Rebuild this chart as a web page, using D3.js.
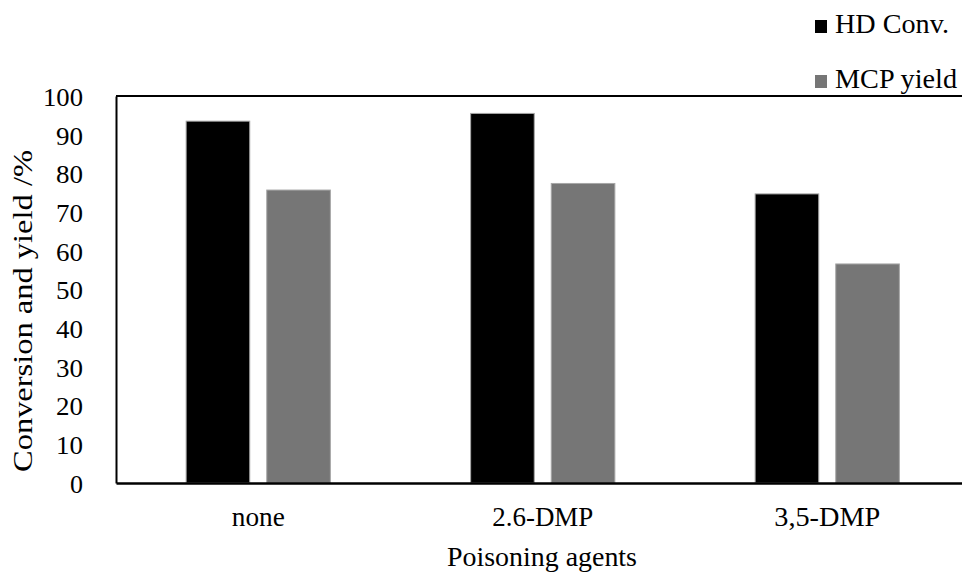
<!DOCTYPE html>
<html><head><meta charset="utf-8">
<script src="https://cdn.jsdelivr.net/npm/d3@7/dist/d3.min.js"></script>
<style>body{margin:0;background:#fff;} svg{display:block;}</style>
</head><body>
<svg id="c" width="962" height="572" style="font-family:'Liberation Serif','Times New Roman',Times,'DejaVu Serif',serif"></svg>
<script>
const categories = ["none", "2.6-DMP", "3,5-DMP"];
const seriesNames = ["HD Conv.", "MCP yield"];
const hdConv = [93.5, 95.5, 74.7];
const mcpYield = [75.7, 77.4, 56.6];
const yTicks = [0,10,20,30,40,50,60,70,80,90,100];
const colors = ["#000000", "#767676"];

(function(){
const FONT = "'Liberation Serif','Times New Roman',Times,'DejaVu Serif',serif";
const FS = "27px";
// rendered text extents measured on the reference (layout only)
const textLen = {"none": 53, "2.6-DMP": 101, "3,5-DMP": 106, "HD Conv.": 114, "MCP yield": 122,
                 "Poisoning agents": 190, "Conversion and yield /%": 322,
                 "100": 40, "0": 13};
function fit(sel) {
  sel.each(function() {
    const t = d3.select(this).text();
    let L = textLen[t];
    if (!L && /^\d\d$/.test(t)) L = 27;
    if (L) d3.select(this).attr("textLength", L).attr("lengthAdjust", "spacingAndGlyphs");
  });
}
const svg = d3.select("#c");
const mLeft = 116, mRight = 969.5, mTop = 96, mBottom = 483;
const x0 = d3.scaleBand().domain(categories).range([mLeft, mRight]);
const x1 = d3.scaleBand().domain(seriesNames).range([0, x0.bandwidth()]).paddingInner(0.211).paddingOuter(0.87);
const y = d3.scaleLinear().domain([0, 100]).range([mBottom, mTop]);
const color = d3.scaleOrdinal().domain(seriesNames).range(colors);

const data = categories.map((c, i) => ({cat: c, vals: [hdConv[i], mcpYield[i]]}));

const g = svg.append("g");
g.selectAll("g.grp").data(data).join("g").attr("class", "grp")
  .attr("transform", d => `translate(${x0(d.cat)},0)`)
  .selectAll("rect").data(d => d.vals.map((v, j) => ({s: seriesNames[j], v})))
  .join("rect")
  .attr("x", d => x1(d.s)).attr("width", x1.bandwidth())
  .attr("y", d => y(d.v)).attr("height", d => y(0) - y(d.v))
  .attr("fill", d => color(d.s))
  .attr("stroke", "#a6a6a6").attr("stroke-width", 1);

svg.append("line").attr("x1", mLeft).attr("x2", 962).attr("y1", mTop).attr("y2", mTop).attr("stroke", "#000").attr("stroke-width", 2);
const yAxis = d3.axisLeft(y).tickValues(yTicks).tickSize(0).tickPadding(32).tickFormat(d3.format("d"));
const ya = svg.append("g").attr("transform", `translate(${mLeft},0)`).call(yAxis).attr("font-family", FONT);
ya.select(".domain").attr("stroke", "#000").attr("stroke-width", 2);
ya.selectAll("text").style("font-family", FONT).style("font-size", "26px").attr("dy", "0.36em").attr("x", -33).call(fit);
const xAxis = d3.axisBottom(x0).tickSize(0).tickPadding(0);
const xa = svg.append("g").attr("transform", `translate(0,${mBottom})`).call(xAxis).attr("font-family", FONT);
xa.select(".domain").attr("stroke", "#000").attr("stroke-width", 2.5);
xa.selectAll("text").style("font-family", FONT).style("font-size", FS).attr("dy", 0).attr("y", 43).call(fit);

svg.append("text").attr("x", (447+637)/2).attr("y", 566).attr("text-anchor", "middle").style("font-family", FONT).style("font-size", FS).text("Poisoning agents").call(fit);
svg.append("text").attr("transform", "translate(32,311) rotate(-90)").attr("text-anchor", "middle").style("font-family", FONT).style("font-size", FS).text("Conversion and yield /%").call(fit);

const lg = svg.append("g").selectAll("g").data(seriesNames).join("g")
  .attr("transform", (d, i) => `translate(815,${20 + i * 55})`);
lg.append("rect").attr("width", 12).attr("height", 13).attr("fill", d => color(d));
lg.append("text").attr("x", 20).attr("y", 13).style("font-family", FONT).style("font-size", FS).text(d => d).call(fit);
})();
</script>
</body></html>
